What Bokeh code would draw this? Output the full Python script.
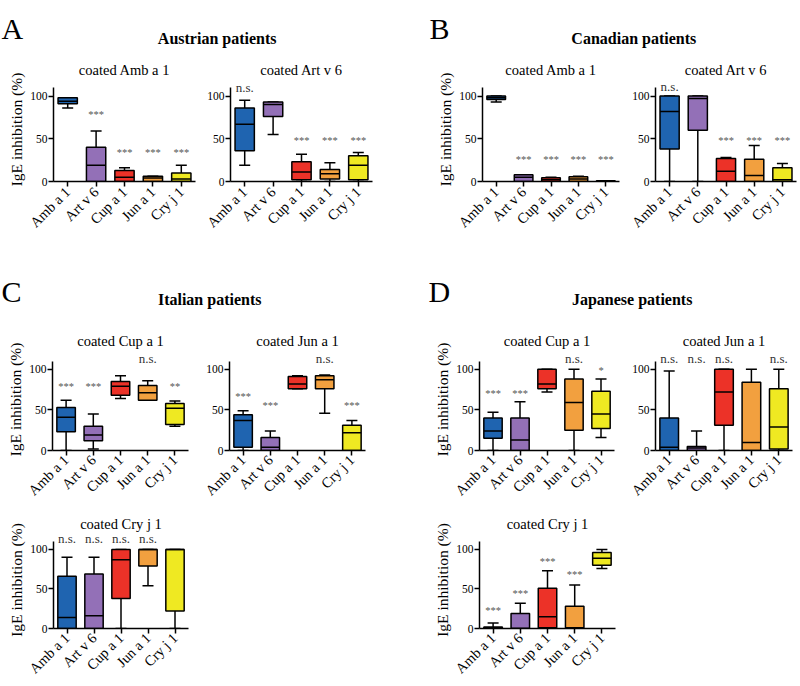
import math
from bokeh.plotting import figure
from bokeh.models import Range1d, FixedTicker, Whisker, TeeHead, ColumnDataSource, Spacer
from bokeh.layouts import row, column
from bokeh.transform import dodge
from bokeh.core.properties import value
from bokeh.embed import file_html
from bokeh.resources import INLINE

# ---------------- data ----------------
categories = ["Amb a 1", "Art v 6", "Cup a 1", "Jun a 1", "Cry j 1"]
box_colors = ["#1f64b0", "#9370b7", "#ec3228", "#f2a03f", "#efe922"]
positions = [1, 2, 3, 4, 5]
y_ticks = [0, 50, 100]

# A: Austrian patients, coated Amb a 1
A1_lo = [86, 0, 0, 0, 0]
A1_q1 = [91, 0, 0, 0, 0]
A1_med = [94, 19, 5, 4, 3]
A1_q3 = [98, 40, 13, 6, 10]
A1_hi = [98, 59, 16, 6, 19]
A1_sig = ["", "***", "***", "***", "***"]
A1_sig_y = [0, 78, 34, 34, 34]
# A: Austrian patients, coated Art v 6
A2_lo = [19, 55, 0, 0, 0]
A2_q1 = [36, 76, 2, 3, 2]
A2_med = [67, 90, 11, 9, 19]
A2_q3 = [86, 93, 23, 14, 30]
A2_hi = [95, 93, 32, 22, 34]
A2_sig = ["n.s.", "", "***", "***", "***"]
A2_sig_y = [110, 0, 48, 48, 48]
# B: Canadian patients, coated Amb a 1
B1_lo = [93, 0, 0, 0, 0]
B1_q1 = [96, 0, 0, 0, 0]
B1_med = [98, 5, 2, 3, 0]
B1_q3 = [100, 8, 4.5, 5.5, 1]
B1_hi = [100, 8, 5, 6, 1]
B1_sig = ["", "***", "***", "***", "***"]
B1_sig_y = [0, 26, 26, 26, 26]
# B: Canadian patients, coated Art v 6
B2_lo = [0, 0, 0, 0, 0]
B2_q1 = [38, 60, 0, 0, 0]
B2_med = [82, 97, 12, 7, 2]
B2_q3 = [100, 100, 27, 26, 16]
B2_hi = [100, 100, 28, 42, 21]
B2_sig = ["n.s.", "", "***", "***", "***"]
B2_sig_y = [111, 0, 48, 48, 48]
# C: Italian patients, coated Cup a 1
C1_lo = [0, 2, 64, 62, 30]
C1_q1 = [23, 12, 68, 62, 32]
C1_med = [41, 19, 79, 71, 52]
C1_q3 = [53, 30, 85, 80, 58]
C1_hi = [62, 45, 92, 86, 61]
C1_sig = ["***", "***", "", "n.s.", "**"]
C1_sig_y = [79, 79, 0, 113, 79]
# C: Italian patients, coated Jun a 1
C2_lo = [0, 0, 76, 46, 0]
C2_q1 = [4, 0, 76, 76, 0]
C2_med = [37, 4, 82, 87, 22]
C2_q3 = [44, 16, 91, 92, 31]
C2_hi = [49, 24, 92, 93, 37]
C2_sig = ["***", "***", "", "n.s.", "***"]
C2_sig_y = [67, 56, 0, 113, 56]
# C: Italian patients, coated Cry j 1
C3_lo = [0, 0, 0, 54, 0]
C3_q1 = [0, 0, 38, 79, 22]
C3_med = [14, 16, 87, 100, 100]
C3_q3 = [66, 69, 100, 100, 100]
C3_hi = [90, 90, 100, 100, 100]
C3_sig = ["n.s.", "n.s.", "n.s.", "n.s.", ""]
C3_sig_y = [114, 114, 114, 114, 0]
# D: Japanese patients, coated Cup a 1
D1_lo = [0, 0, 72, 0, 16]
D1_q1 = [15, 0, 76, 25, 27]
D1_med = [24, 13, 82, 59, 45]
D1_q3 = [40, 40, 100, 88, 73]
D1_hi = [47, 60, 100, 100, 88]
D1_sig = ["***", "***", "", "n.s.", "*"]
D1_sig_y = [70, 70, 0, 113, 98]
# D: Japanese patients, coated Jun a 1
D2_lo = [0, 0, 0, 0, 0]
D2_q1 = [0, 0, 31, 0, 2]
D2_med = [4, 3, 72, 10, 29]
D2_q3 = [40, 5, 100, 84, 76]
D2_hi = [98, 24, 100, 100, 100]
D2_sig = ["n.s.", "n.s.", "n.s.", "", "n.s."]
D2_sig_y = [113, 113, 113, 0, 113]
# D: Japanese patients, coated Cry j 1
D3_lo = [0, 0, 0, 0, 76]
D3_q1 = [0, 0, 1, 1, 80]
D3_med = [1, 0, 15, 1, 89]
D3_q3 = [2, 19, 51, 28, 96]
D3_hi = [7, 32, 73, 55, 100]
D3_sig = ["***", "***", "***", "***", ""]
D3_sig_y = [23, 44, 85, 68, 0]

FONT = "Liberation Serif"


def panel(title, lo, q1, med, q3, hi, sig, sig_y, fig_lr, row_tb, frame_left,
          frame_w, frame_top, y0, y100, ylabel, standoff):
    fl, fr = fig_lr
    ft, fb = row_tb
    width = fr - fl
    height = fb - ft
    mb_left = frame_left - fl
    mb_right = width - mb_left - frame_w
    mb_top = frame_top - ft
    mb_bottom = fb - y0
    ppu = (y0 - y100) / 100.0
    y_end = (y0 - frame_top) / ppu
    p = figure(width=width, height=height, x_range=Range1d(0.5, 5.5),
               y_range=Range1d(0, y_end), output_backend="svg",
               toolbar_location=None, min_border_left=mb_left,
               min_border_right=mb_right, min_border_top=mb_top,
               min_border_bottom=mb_bottom, title=title)
    p.title.align = "center"
    p.title.text_font = FONT
    p.title.text_font_size = "14.5px"
    p.title.text_font_style = "normal"
    p.title.text_color = "black"
    p.title.standoff = 0
    p.xgrid.visible = False
    p.ygrid.visible = False
    p.outline_line_color = None
    p.background_fill_color = "white"

    src = ColumnDataSource(dict(x=positions, lo=lo, q1=q1, med=med, q3=q3,
                                hi=hi, color=box_colors))
    up = Whisker(source=src, base="x", lower="q3", upper="hi",
                 line_color="black", line_width=1.5, lower_head=None,
                 upper_head=TeeHead(size=11, line_color="black", line_width=1.5))
    down = Whisker(source=src, base="x", lower="lo", upper="q1",
                   line_color="black", line_width=1.5, upper_head=None,
                   lower_head=TeeHead(size=11, line_color="black", line_width=1.5))
    p.add_layout(up)
    p.add_layout(down)
    p.vbar(x="x", width=0.68, bottom="q1", top="q3", source=src,
           fill_color="color", line_color="black", line_width=1.5)
    p.segment(x0=dodge("x", -0.34), x1=dodge("x", 0.34), y0="med", y1="med",
              source=src, line_color="black", line_width=1.5)

    stars = [s if "*" in s else "" for s in sig]
    ns = [s if "*" not in s else "" for s in sig]
    ssrc = ColumnDataSource(dict(x=positions, y=sig_y, stars=stars, ns=ns))
    p.text(x="x", y="y", text="stars", source=ssrc, text_align="center",
           text_baseline="middle", text_font=value(FONT),
           text_font_size="10.5px", text_color="#555555")
    p.text(x="x", y="y", text="ns", source=ssrc, text_align="center",
           text_baseline="middle", text_font=value(FONT),
           text_font_size="13px", text_color="#333333")

    xa = p.xaxis[0]
    ya = p.yaxis[0]
    for ax in (xa, ya):
        ax.axis_line_width = 1.5
        ax.axis_line_color = "black"
        ax.major_tick_line_width = 1.5
        ax.major_tick_line_color = "black"
        ax.major_tick_out = 5
        ax.major_tick_in = 0
        ax.minor_tick_out = 0
        ax.minor_tick_in = 0
        ax.major_label_text_font = FONT
        ax.major_label_text_color = "black"
    xa.ticker = FixedTicker(ticks=positions)
    xa.major_label_overrides = {k: c for k, c in zip(positions, categories)}
    xa.major_label_orientation = math.pi / 4
    xa.major_label_text_font_size = "14.5px"
    xa.major_label_standoff = standoff
    ya.ticker = FixedTicker(ticks=y_ticks)
    ya.bounds = (0, 110)
    ya.major_label_text_font_size = "11.5px"
    ya.major_label_standoff = 1
    if ylabel:
        ya.axis_label = "IgE inhibition (%)"
        ya.axis_label_text_font = FONT
        ya.axis_label_text_font_size = "15.5px"
        ya.axis_label_text_font_style = "normal"
        ya.axis_label_text_color = "black"
        ya.axis_label_standoff = 2
    return p


def header(width, height, letters, letter_x, letter_base, names, name_x, name_base):
    h = figure(width=width, height=height, x_range=Range1d(0, width),
               y_range=Range1d(height, 0), output_backend="svg",
               toolbar_location=None, x_axis_type=None, y_axis_type=None,
               min_border=0)
    h.xgrid.visible = False
    h.ygrid.visible = False
    h.outline_line_color = None
    h.text(x=letter_x, y=letter_base, text=letters, text_align="left",
           text_baseline="alphabetic", text_font=value(FONT),
           text_font_size="30px", text_color="black")
    h.text(x=name_x, y=name_base, text=names, text_align="center",
           text_baseline="alphabetic", text_font=value(FONT),
           text_font_size="16px", text_font_style="bold", text_color="black")
    return h


W = 798
# row 1  (figure rows: top, bottom)
R1 = (50, 240)
G1 = dict(frame_top=77, y0=181, y100=95.5, standoff=3)
pA1 = panel("coated Amb a 1", A1_lo, A1_q1, A1_med, A1_q3, A1_hi, A1_sig, A1_sig_y,
            (0, 197), R1, 53, 142, ylabel=True, **G1)
pA2 = panel("coated Art v 6", A2_lo, A2_q1, A2_med, A2_q3, A2_hi, A2_sig, A2_sig_y,
            (197, 376), R1, 230, 142, ylabel=False, **G1)
pB1 = panel("coated Amb a 1", B1_lo, B1_q1, B1_med, B1_q3, B1_hi, B1_sig, B1_sig_y,
            (376, 622), R1, 482, 137, ylabel=True, **G1)
pB2 = panel("coated Art v 6", B2_lo, B2_q1, B2_med, B2_q3, B2_hi, B2_sig, B2_sig_y,
            (622, W), R1, 655, 141, ylabel=False, **G1)

# row 2
R2 = (322, 507)
G2 = dict(frame_top=348, y0=451, y100=369, standoff=2)
pC1 = panel("coated Cup a 1", C1_lo, C1_q1, C1_med, C1_q3, C1_hi, C1_sig, C1_sig_y,
            (0, 192), R2, 52, 136, ylabel=True, **G2)
pC2 = panel("coated Jun a 1", C2_lo, C2_q1, C2_med, C2_q3, C2_hi, C2_sig, C2_sig_y,
            (192, 370), R2, 229, 136, ylabel=False, **G2)
pD1 = panel("coated Cup a 1", D1_lo, D1_q1, D1_med, D1_q3, D1_hi, D1_sig, D1_sig_y,
            (370, 617), R2, 479, 135, ylabel=True, **G2)
pD2 = panel("coated Jun a 1", D2_lo, D2_q1, D2_med, D2_q3, D2_hi, D2_sig, D2_sig_y,
            (617, W), R2, 655, 137, ylabel=False, **G2)

# row 3
R3 = (507, 685)
G3 = dict(frame_top=531, y0=631, y100=549.5, standoff=2)
pC3 = panel("coated Cry j 1", C3_lo, C3_q1, C3_med, C3_q3, C3_hi, C3_sig, C3_sig_y,
            (0, 192), R3, 53, 135, ylabel=True, **G3)
pD3 = panel("coated Cry j 1", D3_lo, D3_q1, D3_med, D3_q3, D3_hi, D3_sig, D3_sig_y,
            (370, 617), R3, 479, 136, ylabel=True, **G3)

h1 = header(W, 50, ["A", "B"], [1, 429], [28, 28.3],
            ["Austrian patients", "Canadian patients"], [216.7, 633.3], [37.5, 37.5])
h2 = header(W, 82, ["C", "D"], [1, 428], [51, 50.7],
            ["Italian patients", "Japanese patients"], [209.2, 631.7], [58.8, 58.8])

layout = column(
    h1,
    row(pA1, pA2, pB1, pB2),
    h2,
    row(pC1, pC2, pD1, pD2),
    row(pC3, Spacer(width=178, height=178), pD3, Spacer(width=W - 617, height=178)),
)

open("out.html", "w").write(file_html(layout, INLINE))
